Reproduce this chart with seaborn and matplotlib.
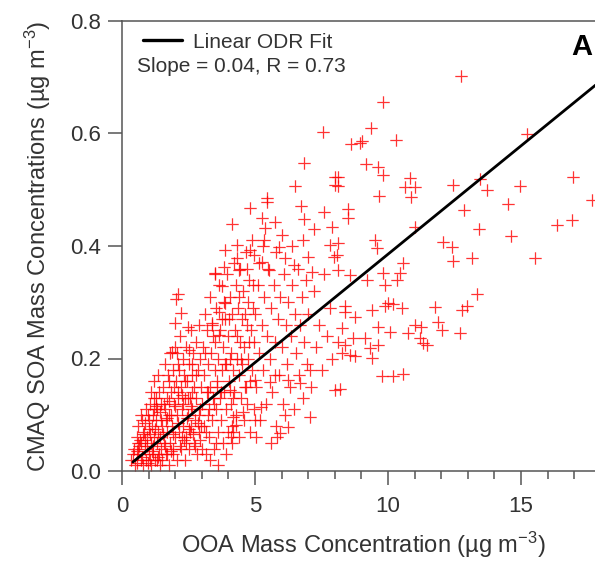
import matplotlib
matplotlib.use("Agg")
import matplotlib.pyplot as plt
import seaborn as sns
import numpy as np
import pandas as pd
from matplotlib.ticker import MultipleLocator, FormatStrFormatter

ooa_low = [0.35, 0.45, 0.50, 0.55, 0.60, 0.62, 0.70, 0.72, 0.75, 0.80,
           0.82, 0.85, 0.90, 0.92, 0.95, 1.00, 1.00, 1.05, 1.08, 1.10,
           1.12, 1.15, 1.18, 1.20, 1.22, 1.25, 1.28, 1.30, 1.32, 1.35,
           1.38, 1.40, 1.42, 1.45, 1.48, 0.65, 0.88, 1.02, 1.16, 1.26,
           0.40, 0.78, 0.98, 1.36, 1.44, 0.58, 0.70, 1.10, 1.20, 1.34]
soa_low = [0.02, 0.04, 0.01, 0.06, 0.03, 0.08, 0.02, 0.05, 0.09, 0.01,
           0.07, 0.04, 0.11, 0.02, 0.06, 0.09, 0.03, 0.12, 0.05, 0.01,
           0.08, 0.10, 0.03, 0.06, 0.13, 0.02, 0.09, 0.05, 0.11, 0.07,
           0.14, 0.03, 0.01, 0.09, 0.12, 0.045, 0.055, 0.075, 0.045, 0.115,
           0.03, 0.065, 0.015, 0.025, 0.06, 0.015, 0.10, 0.14, 0.16, 0.17]

ooa_dense = [0.55, 0.68, 0.74, 0.86, 0.93, 1.04, 1.13, 1.24, 1.31, 1.43,
             1.53, 1.61, 1.69, 1.77, 1.84, 1.93, 2.01, 2.09, 2.17, 2.26,
             2.34, 2.43, 2.51, 2.59, 2.67, 2.76, 2.84, 2.93, 0.60, 0.97,
             1.07, 1.19, 1.29, 1.47, 1.56, 1.71, 1.86, 1.96, 2.11, 2.27,
             2.37, 2.47, 2.63, 2.79, 2.97, 3.13, 3.27, 3.43, 3.57, 3.71,
             3.86, 4.03, 4.17, 4.33, 4.47, 4.63, 4.77, 4.93, 3.17, 3.53]
soa_dense = [0.035, 0.055, 0.025, 0.085, 0.045, 0.065, 0.035, 0.075, 0.02, 0.105,
             0.065, 0.045, 0.095, 0.125, 0.035, 0.065, 0.115, 0.085, 0.045, 0.135,
             0.055, 0.095, 0.075, 0.115, 0.065, 0.045, 0.085, 0.055, 0.05, 0.10,
             0.02, 0.11, 0.13, 0.04, 0.12, 0.03, 0.10, 0.15, 0.14, 0.06,
             0.16, 0.13, 0.19, 0.17, 0.08, 0.21, 0.11, 0.24, 0.15, 0.14,
             0.19, 0.27, 0.13, 0.24, 0.20, 0.28, 0.23, 0.33, 0.07, 0.05]

ooa_b = [1.50, 1.52, 1.55, 1.58, 1.60, 1.62, 1.65, 1.68, 1.70, 1.72,
         1.75, 1.78, 1.80, 1.82, 1.85, 1.88, 1.90, 1.92, 1.95, 1.98,
         2.00, 2.02, 2.05, 2.08, 2.10, 2.12, 2.15, 2.18, 2.20, 2.22,
         2.25, 2.28, 2.30, 2.32, 2.35, 2.38, 2.40, 2.42, 2.45, 2.48,
         2.50, 2.52, 2.55, 2.58, 2.60, 2.62, 2.65, 2.68, 2.70, 2.72,
         2.75, 2.78, 2.80, 2.82, 2.85, 2.88, 2.90, 2.92, 2.95, 2.98,
         1.65, 1.90, 2.15, 2.40, 2.65, 2.88, 2.30, 2.05, 1.75, 2.55]
soa_b = [0.02, 0.08, 0.15, 0.05, 0.11, 0.19, 0.03, 0.13, 0.07, 0.17,
         0.01, 0.10, 0.21, 0.05, 0.14, 0.08, 0.18, 0.03, 0.12, 0.22,
         0.06, 0.16, 0.10, 0.02, 0.19, 0.13, 0.07, 0.24, 0.04, 0.15,
         0.11, 0.20, 0.08, 0.17, 0.02, 0.13, 0.22, 0.06, 0.16, 0.10,
         0.19, 0.04, 0.13, 0.25, 0.08, 0.17, 0.11, 0.21, 0.05, 0.15,
         0.09, 0.23, 0.13, 0.03, 0.18, 0.07, 0.26, 0.11, 0.20, 0.15,
         0.09, 0.04, 0.18, 0.05, 0.14, 0.10, 0.12, 0.21, 0.16, 0.07]

ooa_c = [3.00, 3.02, 3.05, 3.08, 3.10, 3.12, 3.15, 3.18, 3.20, 3.22,
         3.25, 3.28, 3.30, 3.32, 3.35, 3.38, 3.40, 3.42, 3.45, 3.48,
         3.50, 3.52, 3.55, 3.58, 3.60, 3.62, 3.65, 3.68, 3.70, 3.72,
         3.75, 3.78, 3.80, 3.82, 3.85, 3.88, 3.90, 3.92, 3.95, 3.98,
         4.00, 4.02, 4.05, 4.08, 4.10, 4.12, 4.15, 4.18, 4.20, 4.22,
         4.25, 4.28, 4.30, 4.32, 4.35, 4.38, 4.40, 4.42, 4.45, 4.48,
         4.50, 4.52, 4.55, 4.58, 4.60, 4.62, 4.65, 4.68, 4.70, 4.72,
         4.75, 4.78, 4.80, 4.82, 4.85, 4.88, 4.90, 4.92, 4.95, 4.98,
         3.30, 3.60, 3.90, 3.45, 4.15, 3.25, 3.75, 4.05, 4.40, 4.70]
soa_c = [0.04, 0.12, 0.22, 0.08, 0.17, 0.28, 0.03, 0.14, 0.25, 0.10,
         0.19, 0.06, 0.31, 0.15, 0.21, 0.09, 0.26, 0.13, 0.04, 0.18,
         0.23, 0.11, 0.29, 0.16, 0.07, 0.20, 0.33, 0.13, 0.25, 0.09,
         0.18, 0.05, 0.22, 0.30, 0.14, 0.27, 0.11, 0.19, 0.35, 0.07,
         0.24, 0.16, 0.31, 0.12, 0.21, 0.28, 0.08, 0.18, 0.37, 0.14,
         0.25, 0.33, 0.10, 0.20, 0.29, 0.06, 0.17, 0.23, 0.36, 0.13,
         0.27, 0.19, 0.32, 0.09, 0.22, 0.15, 0.39, 0.26, 0.12, 0.30,
         0.20, 0.34, 0.16, 0.07, 0.25, 0.41, 0.18, 0.29, 0.11, 0.23,
         0.02, 0.01, 0.03, 0.12, 0.05, 0.14, 0.27, 0.20, 0.31, 0.36]

ooa_d = [5.00, 5.05, 5.10, 5.15, 5.20, 5.25, 5.30, 5.35, 5.40, 5.45,
         5.50, 5.55, 5.60, 5.65, 5.70, 5.75, 5.80, 5.85, 5.90, 5.95,
         6.00, 6.05, 6.10, 6.15, 6.20, 6.25, 6.30, 6.35, 6.40, 6.45,
         6.50, 6.55, 6.60, 6.65, 6.70, 6.75, 6.80, 6.85, 6.90, 6.95,
         7.00, 7.10, 7.20, 7.30, 7.40, 7.50, 7.60, 7.70, 7.80, 7.90,
         5.30, 5.60, 6.00, 6.40, 7.20, 7.60, 7.00, 5.15, 5.80, 6.80]
soa_d = [0.28, 0.15, 0.33, 0.21, 0.09, 0.26, 0.18, 0.31, 0.12, 0.24,
         0.36, 0.20, 0.29, 0.14, 0.33, 0.23, 0.08, 0.27, 0.17, 0.31,
         0.22, 0.12, 0.35, 0.26, 0.19, 0.30, 0.15, 0.24, 0.33, 0.11,
         0.28, 0.21, 0.36, 0.17, 0.26, 0.31, 0.13, 0.23, 0.34, 0.19,
         0.28, 0.15, 0.32, 0.22, 0.26, 0.18, 0.35, 0.24, 0.29, 0.20,
         0.40, 0.05, 0.42, 0.40, 0.43, 0.46, 0.38, 0.37, 0.39, 0.41]

ooa_high = [12.74, 9.81, 9.36, 8.61, 9.02, 10.30, 15.23, 9.17, 9.62, 9.81,
            8.12, 8.12, 10.83, 10.64, 11.00, 10.86, 9.66, 12.44, 13.46, 13.72,
            14.96, 16.95, 17.67, 14.51, 12.86, 8.50, 8.50, 16.92, 16.35, 13.42,
            11.00, 14.62, 13.16, 15.53, 13.35, 12.97, 7.55, 8.95]
soa_high = [0.702, 0.656, 0.610, 0.581, 0.587, 0.588, 0.599, 0.546, 0.540, 0.526,
            0.523, 0.507, 0.521, 0.505, 0.505, 0.487, 0.489, 0.508, 0.519, 0.500,
            0.507, 0.523, 0.482, 0.475, 0.464, 0.466, 0.450, 0.446, 0.437, 0.430,
            0.434, 0.418, 0.379, 0.379, 0.315, 0.293, 0.602, 0.584]

ooa_mid = [9.51, 9.59, 8.12, 8.08, 8.12, 8.57, 9.21, 9.81, 9.89, 10.45,
           10.34, 10.56, 12.07, 12.41, 12.44, 10.00, 10.19, 9.89, 10.53, 9.40,
           8.38, 8.38, 8.76, 11.77, 11.88, 12.03, 12.78, 11.00, 11.24, 10.75,
           11.20, 11.47, 11.32, 12.70, 9.62, 10.08, 8.27, 8.68, 9.14, 9.62,
           9.32, 8.12, 8.38, 8.27, 8.57, 8.76, 9.40, 9.77, 10.19, 10.56,
           8.20]
soa_mid = [0.411, 0.396, 0.405, 0.384, 0.357, 0.348, 0.340, 0.352, 0.331, 0.352,
           0.340, 0.370, 0.407, 0.398, 0.373, 0.299, 0.297, 0.293, 0.290, 0.286,
           0.293, 0.283, 0.274, 0.292, 0.265, 0.251, 0.286, 0.260, 0.256, 0.245,
           0.236, 0.224, 0.227, 0.245, 0.256, 0.247, 0.254, 0.236, 0.236, 0.224,
           0.219, 0.229, 0.224, 0.210, 0.206, 0.204, 0.201, 0.169, 0.169, 0.172,
           0.146]

ooa_under = [6.13, 7.07, 6.24, 5.94, 5.83, 5.04, 5.23, 5.00, 4.55, 4.17,
             4.17, 4.10, 4.29, 8.00, 6.69, 6.24, 5.56, 5.75, 4.66, 5.00,
             4.06, 7.07]
soa_under = [0.100, 0.096, 0.078, 0.068, 0.060, 0.060, 0.114, 0.091, 0.105, 0.096,
             0.069, 0.060, 0.082, 0.144, 0.156, 0.162, 0.158, 0.171, 0.149, 0.162,
             0.144, 0.180]

ooa_upper = [2.11, 2.03, 2.22, 1.99, 2.48, 3.50, 3.76, 3.87, 3.65, 3.38, 3.65, 1.88, 2.52,
             6.84, 6.50, 5.45, 5.45, 4.81, 6.73, 6.84, 5.26, 5.75, 4.14,
             5.38, 5.34, 7.89, 8.00, 8.00, 5.90, 7.82, 7.97, 4.32, 3.87,
             4.81, 4.96, 4.32, 6.13, 6.47, 5.26, 3.83, 4.40, 5.53, 7.14, 3.50]
soa_upper = [0.315, 0.306, 0.281, 0.263, 0.256, 0.350, 0.329, 0.299, 0.283, 0.263, 0.242, 0.212, 0.215,
             0.548, 0.507, 0.485, 0.478, 0.468, 0.471, 0.448, 0.450, 0.443, 0.439,
             0.432, 0.411, 0.434, 0.523, 0.508, 0.398, 0.402, 0.380, 0.402, 0.393,
             0.393, 0.384, 0.379, 0.379, 0.366, 0.372, 0.363, 0.357, 0.357, 0.354, 0.352]

# reta do ajuste ODR (extremos)
fit_x = [0.41, 17.8]
fit_y = [0.016, 0.686]

df = pd.DataFrame({
    "OOA": ooa_low + ooa_dense + ooa_b + ooa_c + ooa_d + ooa_high + ooa_mid + ooa_under + ooa_upper,
    "SOA": soa_low + soa_dense + soa_b + soa_c + soa_d + soa_high + soa_mid + soa_under + soa_upper,
})

sns.set_theme(style="ticks")
plt.rcParams["font.family"] = ["Liberation Sans", "DejaVu Sans"]
plt.rcParams["mathtext.fontset"] = "custom"
plt.rcParams["mathtext.rm"] = "Liberation Sans"
plt.rcParams["mathtext.it"] = "Liberation Sans"

cor_texto = "#333333"
cor_eixo = "#555555"

fig = plt.figure(figsize=(5.95, 5.62), dpi=100)
ax = fig.add_axes([122 / 595, 1 - 471 / 562, 473 / 595, 450 / 562])

sns.scatterplot(data=df, x="OOA", y="SOA", marker="+", s=80, color="#ff0000",
                linewidth=0.9, ax=ax, clip_on=False)
pontos = ax.collections[0]
pontos.set_edgecolor("#ff0000")
pontos.set_alpha(0.8)
pontos.set_snap(False)

sns.lineplot(x=fit_x, y=fit_y, color="black", linewidth=2.0, ax=ax,
             label="Linear ODR Fit", legend=False)

ax.set_xlim(0, 17.78)
ax.set_ylim(0, 0.8)
ax.xaxis.set_major_locator(MultipleLocator(5))
ax.xaxis.set_minor_locator(MultipleLocator(1))
ax.yaxis.set_major_locator(MultipleLocator(0.2))
ax.yaxis.set_major_formatter(FormatStrFormatter("%.1f"))

ax.tick_params(axis="both", which="major", length=10, width=1.1, color=cor_eixo,
               labelsize=16, labelcolor=cor_texto, direction="out")
ax.tick_params(axis="x", which="major", pad=8)
ax.tick_params(axis="y", which="major", pad=5)
ax.tick_params(axis="x", which="minor", length=6, width=1.1, color=cor_eixo)

for lado in ["left", "bottom", "top"]:
    ax.spines[lado].set_color(cor_eixo)
    ax.spines[lado].set_linewidth(1.1)
ax.spines["right"].set_visible(False)

ax.set_xlabel("OOA Mass Concentration (µg m$^{-3}$)", fontsize=17, color=cor_texto)
ax.set_ylabel("CMAQ SOA Mass Concentrations (µg m$^{-3}$)", fontsize=17, color=cor_texto)
ax.xaxis.set_label_coords(0.51, -0.13)
ax.yaxis.set_label_coords(-0.145, 0.5)

handles, labels = ax.get_legend_handles_labels()
leg = fig.legend(handles, labels, loc="center left", bbox_to_anchor=(143 / 595, 1 - 42 / 562),
                 borderpad=0, borderaxespad=0, handlelength=1.85, handletextpad=0.55,
                 frameon=False, fontsize=15, labelcolor=cor_texto)
leg.get_lines()[0].set_linewidth(2.4)
fig.text(137 / 595, 1 - 66 / 562, "Slope = 0.04, R = 0.73", ha="left", va="center",
         fontsize=15, color=cor_texto)
fig.text(582 / 595, 1 - 47 / 562, "A", ha="center", va="center", fontsize=21,
         fontweight="bold", color="black")

fig.savefig("out.png", dpi=100)
